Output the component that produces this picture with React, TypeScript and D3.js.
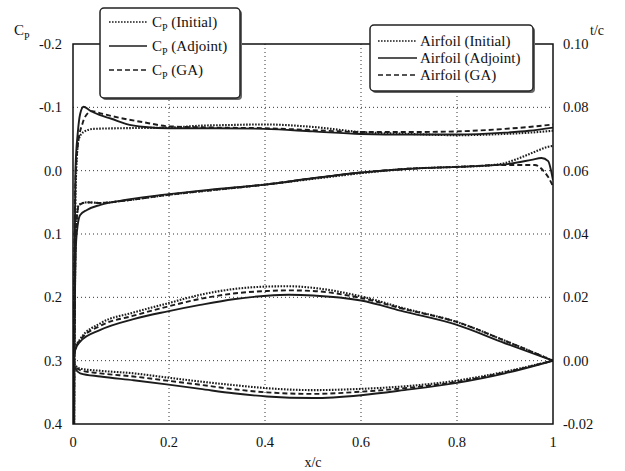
import React from "react";
import * as d3 from "d3";

// ---------- data ----------
const cpTicks = [-0.2, -0.1, 0.0, 0.1, 0.2, 0.3, 0.4];
const tcTicks = [0.1, 0.08, 0.06, 0.04, 0.02, 0.0, -0.02];
const xTicks = [0, 0.2, 0.4, 0.6, 0.8, 1];

// Cp, upper surface  [x/c, Cp]
const cpUpperInitial: [number, number][] = [
  [0, 1.0], [0.002, 0.3], [0.005, 0.05], [0.008, -0.02], [0.012, -0.05], [0.022, -0.061],
  [0.043, -0.066], [0.1, -0.067], [0.2, -0.068], [0.265, -0.071], [0.32, -0.072], [0.4, -0.073],
  [0.5, -0.069], [0.6, -0.061], [0.7, -0.058], [0.8, -0.056], [0.9, -0.058], [0.95, -0.06], [1.0, -0.063],
];
const cpUpperAdjoint: [number, number][] = [
  [0, 1.0], [0.002, 0.3], [0.005, 0.0], [0.01, -0.06], [0.015, -0.09], [0.022, -0.101],
  [0.035, -0.095], [0.055, -0.088], [0.08, -0.082], [0.11, -0.074], [0.15, -0.069], [0.2, -0.067],
  [0.3, -0.067], [0.4, -0.066], [0.5, -0.062], [0.6, -0.058], [0.7, -0.057], [0.8, -0.057],
  [0.9, -0.06], [0.95, -0.063], [1.0, -0.068],
];
const cpUpperGA: [number, number][] = [
  [0, 1.0], [0.002, 0.3], [0.005, 0.02], [0.01, -0.04], [0.02, -0.075], [0.03, -0.09],
  [0.04, -0.094], [0.06, -0.09], [0.1, -0.083], [0.15, -0.076], [0.2, -0.07], [0.3, -0.068],
  [0.4, -0.067], [0.5, -0.064], [0.6, -0.061], [0.7, -0.061], [0.8, -0.062], [0.9, -0.066],
  [0.95, -0.069], [1.0, -0.073],
];

// Cp, lower surface
const cpLowerInitial: [number, number][] = [
  [0, 1.0], [0.003, 0.3], [0.006, 0.1], [0.012, 0.054], [0.029, 0.05], [0.057, 0.051],
  [0.1, 0.048], [0.2, 0.038], [0.3, 0.03], [0.4, 0.022], [0.5, 0.013], [0.6, 0.004],
  [0.7, -0.003], [0.8, -0.006], [0.86, -0.008], [0.9, -0.012], [0.927, -0.019], [0.95, -0.026],
  [0.969, -0.032], [0.986, -0.037], [1.0, -0.039],
];
const cpLowerAdjoint: [number, number][] = [
  [0, 1.0], [0.003, 0.3], [0.006, 0.12], [0.01, 0.085], [0.015, 0.07], [0.029, 0.062],
  [0.057, 0.054], [0.112, 0.046], [0.2, 0.037], [0.286, 0.03], [0.4, 0.022], [0.5, 0.012],
  [0.6, 0.003], [0.7, -0.003], [0.8, -0.006], [0.9, -0.01], [0.955, -0.017], [0.976, -0.02],
  [0.99, -0.015], [0.996, 0.0], [1.0, 0.015],
];
const cpLowerGA: [number, number][] = [
  [0, 1.0], [0.003, 0.3], [0.006, 0.1], [0.012, 0.055], [0.029, 0.05], [0.057, 0.051],
  [0.1, 0.048], [0.2, 0.038], [0.3, 0.03], [0.4, 0.022], [0.5, 0.012], [0.6, 0.003],
  [0.7, -0.003], [0.8, -0.006], [0.9, -0.009], [0.962, -0.009], [0.982, 0.002], [0.99, 0.01],
  [1.0, 0.025],
];

// Airfoil geometry [x/c, t/c]
const foilUpperInitial: [number, number][] = [
  [0, 0], [0.005, 0.004], [0.015, 0.0068], [0.057, 0.0118], [0.126, 0.0152], [0.195, 0.018],
  [0.265, 0.0208], [0.334, 0.0226], [0.404, 0.0234], [0.45, 0.0235], [0.5, 0.023], [0.6, 0.0203],
  [0.69, 0.0165], [0.8, 0.0122], [0.9, 0.0063], [1.0, 0],
];
const foilUpperAdjoint: [number, number][] = [
  [0, 0], [0.005, 0.0035], [0.015, 0.006], [0.057, 0.0097], [0.126, 0.0131], [0.195, 0.0155],
  [0.265, 0.0176], [0.334, 0.0194], [0.404, 0.0205], [0.45, 0.0208], [0.5, 0.0206], [0.6, 0.019],
  [0.69, 0.0155], [0.8, 0.0113], [0.9, 0.0055], [1.0, 0],
];
const foilUpperGA: [number, number][] = [
  [0, 0], [0.005, 0.0038], [0.015, 0.0065], [0.057, 0.011], [0.126, 0.0142], [0.195, 0.017],
  [0.265, 0.0195], [0.334, 0.0212], [0.404, 0.022], [0.45, 0.0222], [0.5, 0.022], [0.6, 0.0198],
  [0.69, 0.0163], [0.8, 0.0122], [0.9, 0.0063], [1.0, 0],
];
const foilLowerInitial: [number, number][] = [
  [0, 0], [0.005, -0.0015], [0.015, -0.0025], [0.057, -0.0032], [0.126, -0.004], [0.195, -0.0053],
  [0.265, -0.0066], [0.334, -0.0077], [0.404, -0.0087], [0.5, -0.0093], [0.6, -0.0089],
  [0.69, -0.0081], [0.8, -0.0063], [0.9, -0.0035], [1.0, 0],
];
const foilLowerAdjoint: [number, number][] = [
  [0, 0], [0.005, -0.0025], [0.015, -0.004], [0.057, -0.005], [0.126, -0.0062], [0.195, -0.0075],
  [0.265, -0.0089], [0.334, -0.0103], [0.404, -0.0113], [0.5, -0.0118], [0.6, -0.0109],
  [0.69, -0.0093], [0.8, -0.007], [0.9, -0.004], [1.0, 0],
];
const foilLowerGA: [number, number][] = [
  [0, 0], [0.005, -0.0018], [0.015, -0.003], [0.057, -0.004], [0.126, -0.005], [0.195, -0.0063],
  [0.265, -0.0076], [0.334, -0.009], [0.404, -0.01], [0.5, -0.0105], [0.6, -0.0098],
  [0.69, -0.0087], [0.8, -0.0067], [0.9, -0.0037], [1.0, 0],
];

const cpLegend = ["(Initial)", "(Adjoint)", "(GA)"];
const foilLegend = ["Airfoil (Initial)", "Airfoil (Adjoint)", "Airfoil (GA)"];

// ---------- styles ----------
const INK = "#1c1c1c";
const dashInitial = "1.6,1.4";
const dashGA = "5,3";
const FONT = "'Liberation Serif', 'Times New Roman', serif";

const W = 625, H = 471;
const L = 73, R = 553, T = 44, B = 424;

const hyphen = (s: string) => s.replace("\u2212", "-");

export default function App() {
  const x = d3.scaleLinear().domain([0, 1]).range([L, R]);
  const yCp = d3.scaleLinear().domain([-0.2, 0.4]).range([T, B]);
  const yTc = d3.scaleLinear().domain([0.1, -0.02]).range([T, B]);

  const cpLine = d3.line<[number, number]>().x(d => x(d[0])).y(d => yCp(d[1])).curve(d3.curveMonotoneX);
  const tcLine = d3.line<[number, number]>().x(d => x(d[0])).y(d => yTc(d[1])).curve(d3.curveMonotoneX);

  const fmtCp = (v: number) => hyphen(d3.format(".1f")(v));
  const fmtTc = (v: number) => hyphen(d3.format(".2f")(v));
  const fmtX = (v: number) => hyphen(d3.format("")(v));

  const series = [
    { d: cpLine(cpUpperInitial), dash: dashInitial, w: 2.1 },
    { d: cpLine(cpLowerInitial), dash: dashInitial, w: 2.1 },
    { d: cpLine(cpUpperGA), dash: dashGA, w: 1.9 },
    { d: cpLine(cpLowerGA), dash: dashGA, w: 1.9 },
    { d: cpLine(cpUpperAdjoint), dash: null, w: 1.9 },
    { d: cpLine(cpLowerAdjoint), dash: null, w: 1.9 },
    { d: tcLine(foilUpperInitial), dash: dashInitial, w: 2.1 },
    { d: tcLine(foilLowerInitial), dash: dashInitial, w: 2.1 },
    { d: tcLine(foilUpperGA), dash: dashGA, w: 1.9 },
    { d: tcLine(foilLowerGA), dash: dashGA, w: 1.9 },
    { d: tcLine(foilUpperAdjoint), dash: null, w: 1.9 },
    { d: tcLine(foilLowerAdjoint), dash: null, w: 1.9 },
  ];

  const dashes = [dashInitial, null, dashGA];

  // legend geometry
  const lg1 = { x: 100, y: 8, w: 140, h: 90, lx0: 109, lx1: 147, tx: 152, rows: [22, 46, 70] };
  const lg2 = { x: 370, y: 25, w: 163, h: 66, lx0: 378, lx1: 417, tx: 420, rows: [41, 58, 75] };

  return (
    <svg width={W} height={H} viewBox={`0 0 ${W} ${H}`}
      style={{ position: "absolute", left: 0, top: 0, background: "#fff" }}
      fontFamily={FONT}>
      <defs>
        <clipPath id="plotClip">
          <rect x={L} y={T} width={R - L} height={B - T} />
        </clipPath>
      </defs>
      <rect x={0} y={0} width={W} height={H} fill="#fff" />

      {/* grid */}
      <g stroke="#333" strokeWidth={1} strokeDasharray="1,3">
        {cpTicks.filter(t => t > -0.2 && t < 0.4).map(t => (
          <line key={"gy" + t} x1={L} x2={R} y1={yCp(t)} y2={yCp(t)} />
        ))}
        {xTicks.filter(t => t > 0 && t < 1).map(t => (
          <line key={"gx" + t} x1={x(t)} x2={x(t)} y1={T} y2={B} />
        ))}
      </g>

      {/* data */}
      <g clipPath="url(#plotClip)" fill="none" stroke={INK}>
        {series.map((s, i) => (
          <path key={i} d={s.d || ""} strokeWidth={s.w} strokeDasharray={s.dash || undefined} strokeLinejoin="round" />
        ))}
      </g>

      {/* frame */}
      <rect x={L} y={T} width={R - L} height={B - T} fill="none" stroke="#111" strokeWidth={1.5} />

      {/* left ticks */}
      <g fontSize={14.5} fill="#111" textAnchor="end">
        {cpTicks.map(t => (
          <text key={"lc" + t} x={62} y={yCp(t) + 5}>{fmtCp(t)}</text>
        ))}
      </g>
      {/* right ticks */}
      <g fontSize={14.5} fill="#111" textAnchor="start">
        {tcTicks.map(t => (
          <text key={"rt" + t} x={563} y={yTc(t) + 5}>{fmtTc(t)}</text>
        ))}
      </g>
      {/* bottom ticks */}
      <g fontSize={14.5} fill="#111" textAnchor="middle">
        {xTicks.map(t => (
          <text key={"bx" + t} x={x(t)} y={447}>{fmtX(t)}</text>
        ))}
      </g>

      {/* axis titles */}
      <text x={14} y={35} fontSize={15} fill="#111">C<tspan fontSize={10} dy={5}>P</tspan></text>
      <text x={590} y={35} fontSize={14} fill="#111">t/c</text>
      <text x={(L + R) / 2} y={467} fontSize={14} fill="#111" textAnchor="middle">x/c</text>

      {/* legend 1 */}
      <g>
        <rect x={lg1.x + 2} y={lg1.y + 2} width={lg1.w} height={lg1.h} rx={4} fill="#666" />
        <rect x={lg1.x} y={lg1.y} width={lg1.w} height={lg1.h} rx={4} fill="#fff" stroke="#222" strokeWidth={1.5} />
        {cpLegend.map((lab, i) => (
          <g key={"l1" + i}>
            <line x1={lg1.lx0} x2={lg1.lx1} y1={lg1.rows[i]} y2={lg1.rows[i]} stroke={INK}
              strokeWidth={1.6} strokeDasharray={dashes[i] || undefined} />
            <text x={lg1.tx} y={lg1.rows[i] + 5} fontSize={15} fill="#111">
              C<tspan fontSize={10} dy={4}>P</tspan><tspan dy={-4}>{" " + lab}</tspan>
            </text>
          </g>
        ))}
      </g>

      {/* legend 2 */}
      <g>
        <rect x={lg2.x + 2} y={lg2.y + 2} width={lg2.w} height={lg2.h} rx={4} fill="#666" />
        <rect x={lg2.x} y={lg2.y} width={lg2.w} height={lg2.h} rx={4} fill="#fff" stroke="#222" strokeWidth={1.5} />
        {foilLegend.map((lab, i) => (
          <g key={"l2" + i}>
            <line x1={lg2.lx0} x2={lg2.lx1} y1={lg2.rows[i]} y2={lg2.rows[i]} stroke={INK}
              strokeWidth={1.6} strokeDasharray={dashes[i] || undefined} />
            <text x={lg2.tx} y={lg2.rows[i] + 5} fontSize={15} fill="#111">{lab}</text>
          </g>
        ))}
      </g>
    </svg>
  );
}
